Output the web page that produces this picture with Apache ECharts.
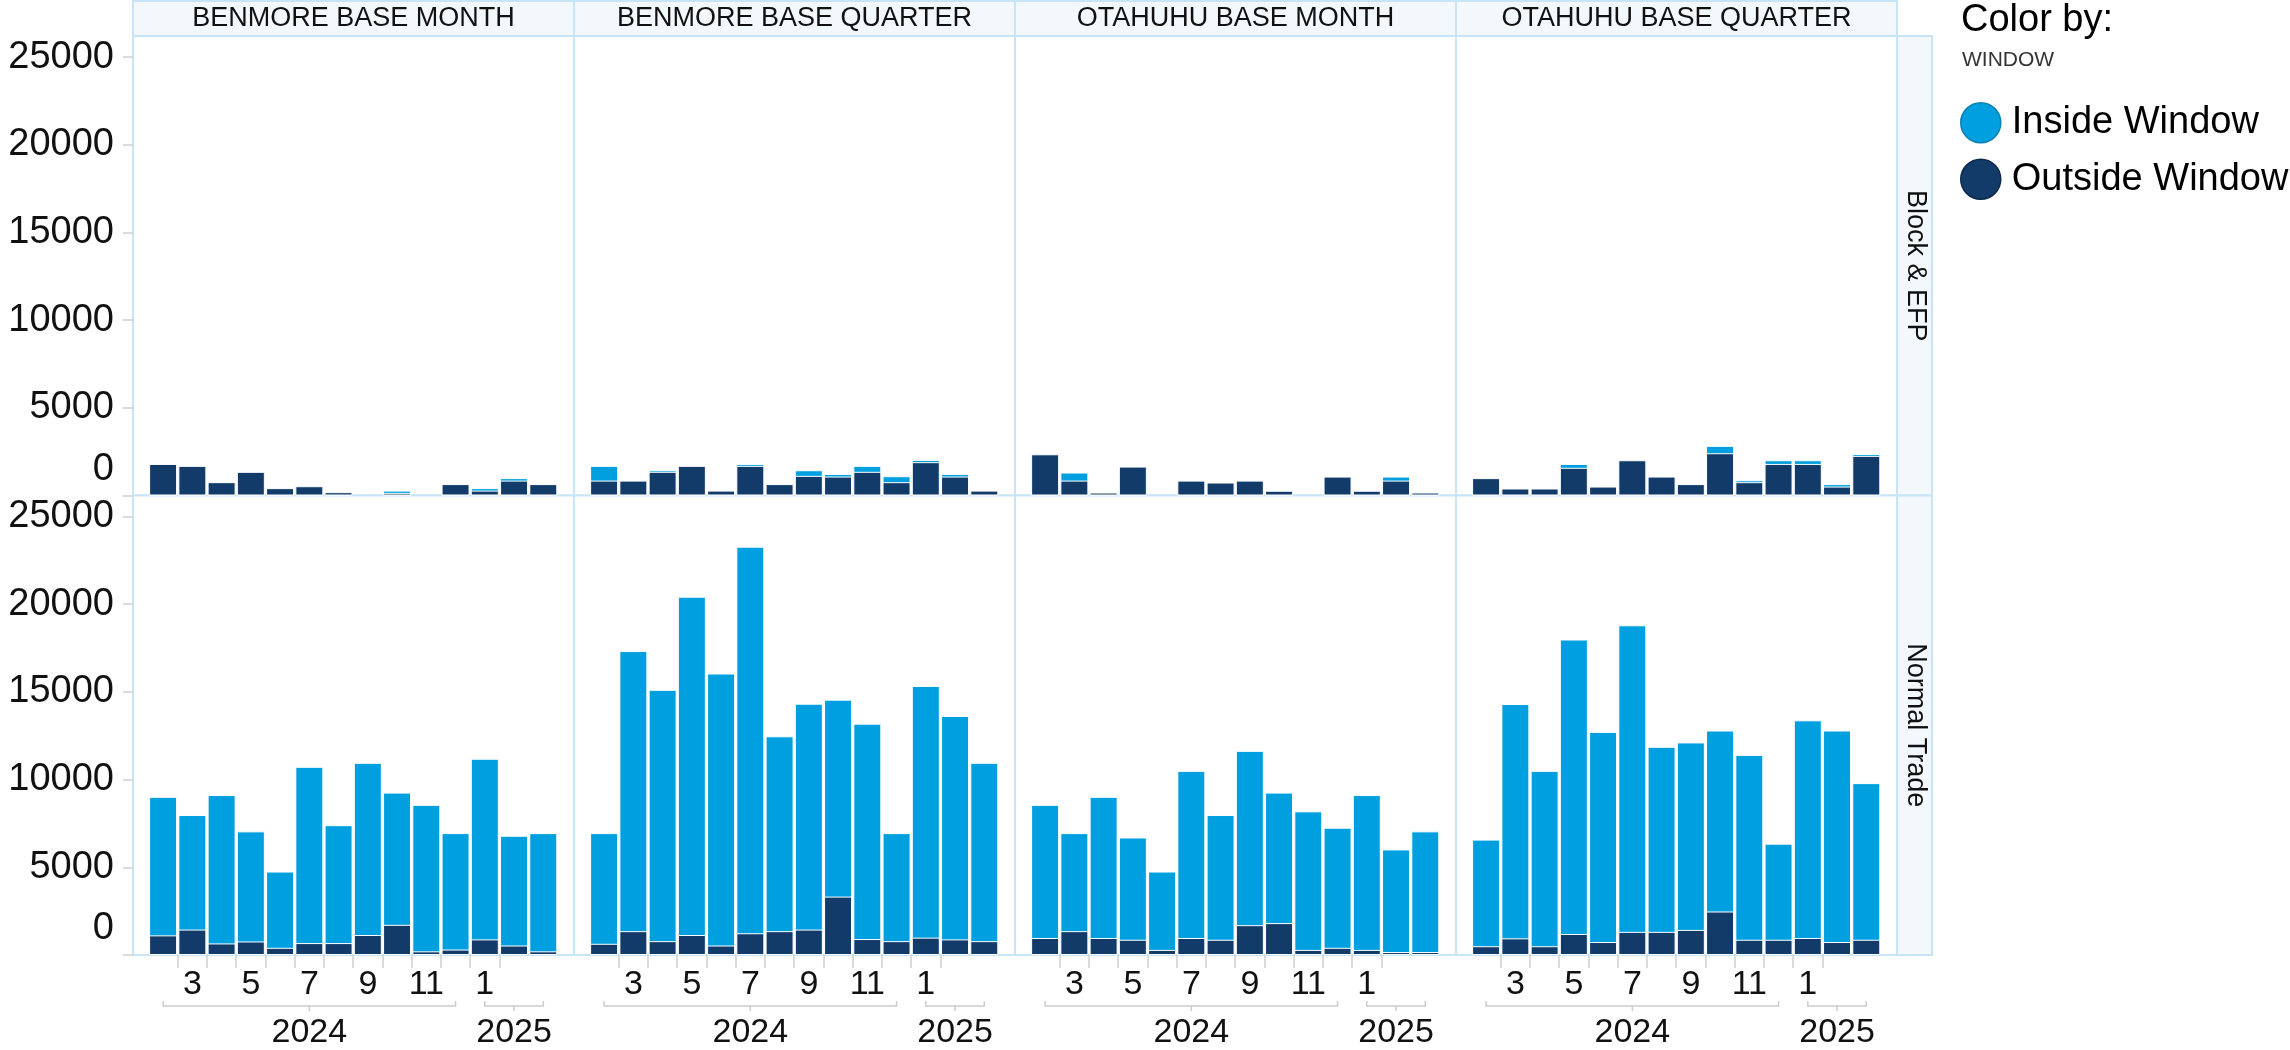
<!DOCTYPE html>
<html>
<head>
<meta charset="utf-8">
<title>Trades by window</title>
<script src="https://cdn.jsdelivr.net/npm/echarts@6.0.0/dist/echarts.min.js"></script>
<style>
  html, body { margin: 0; padding: 0; background: #fff; }
  #chart { width: 2290px; height: 1050px; }
</style>
</head>
<body>
<div id="chart"></div>
<script>
// months shown on every panel: Feb 2024 .. Mar 2025
const months = ['2024-02', '2024-03', '2024-04', '2024-05', '2024-06', '2024-07', '2024-08',
    '2024-09', '2024-10', '2024-11', '2024-12', '2025-01', '2025-02', '2025-03'];
const monthTickLabels = ['', '3', '', '5', '', '7', '', '9', '', '11', '', '1', '', ''];
const years = ['2024', '2025'];
const yearFirstMonth = [0, 11];
const yearLastMonth = [10, 13];
const panels = ['BENMORE BASE MONTH', 'BENMORE BASE QUARTER', 'OTAHUHU BASE MONTH', 'OTAHUHU BASE QUARTER'];
const tradeTypes = ['Block & EFP', 'Normal Trade'];
const yTicks = [0, 5000, 10000, 15000, 20000, 25000];

// Block & EFP
const bmBlockInside = [0, 0, 0, 0, 0, 0, 0, 0, 130, 0, 0, 140, 140, 0];
const bmBlockOutside = [1800, 1690, 760, 1350, 420, 530, 190, 0, 150, 0, 650, 280, 850, 650];
const bqBlockInside = [840, 0, 90, 0, 0, 110, 0, 320, 150, 340, 340, 130, 150, 0];
const bqBlockOutside = [850, 850, 1350, 1690, 280, 1690, 650, 1120, 1080, 1350, 760, 1900, 1080, 280];
const omBlockInside = [0, 460, 0, 0, 0, 0, 0, 0, 0, 0, 0, 0, 230, 0];
const omBlockOutside = [2350, 850, 170, 1650, 0, 850, 740, 850, 270, 0, 1080, 270, 850, 170];
const oqBlockInside = [0, 0, 0, 220, 0, 0, 0, 0, 420, 110, 210, 210, 140, 110];
const oqBlockOutside = [990, 400, 400, 1580, 510, 2010, 1080, 650, 2410, 760, 1800, 1800, 510, 2260];

// Normal Trade
const bmNormalInside = [7900, 6530, 8460, 6280, 4350, 10050, 6720, 9820, 7540, 8350, 6640, 10300, 6260, 6740];
const bmNormalOutside = [1120, 1450, 660, 770, 410, 680, 680, 1140, 1720, 210, 310, 890, 540, 210];
const bqNormalInside = [6310, 15970, 14330, 19290, 15510, 22040, 11110, 12880, 11230, 12280, 6160, 14350, 12740, 10170];
const bqNormalOutside = [640, 1360, 790, 1140, 540, 1240, 1360, 1450, 3330, 910, 790, 990, 890, 790];
const omNormalInside = [7590, 5590, 8050, 5830, 4470, 9530, 7110, 9940, 7440, 7900, 6850, 8830, 5850, 6880];
const omNormalOutside = [970, 1360, 970, 870, 290, 970, 870, 1700, 1820, 290, 410, 290, 170, 170];
const oqNormalInside = [6080, 13360, 10000, 16790, 11980, 17480, 10550, 10690, 10320, 10540, 5480, 12410, 12060, 8930];
const oqNormalOutside = [500, 950, 500, 1200, 740, 1320, 1320, 1430, 2480, 870, 870, 970, 740, 870];

const insideByPanel = [
    [bmBlockInside, bqBlockInside, omBlockInside, oqBlockInside],
    [bmNormalInside, bqNormalInside, omNormalInside, oqNormalInside]
];
const outsideByPanel = [
    [bmBlockOutside, bqBlockOutside, omBlockOutside, oqBlockOutside],
    [bmNormalOutside, bqNormalOutside, omNormalOutside, oqNormalOutside]
];

// layout
const L = 133, R = 1897, T = 36, B = 955;
const colW = (R - L) / 4, rowH = (B - T) / 2;
const frame = '#c8e4f7', stripFill = '#f3f8fd';
const insideColor = '#009fdf', outsideColor = '#133b69';
const font = '"Liberation Sans", Arial, sans-serif';

const tickSpots = months.slice(1, 13).map((m, i) => i + 0.5);
const labelSpots = monthTickLabels.map((t, i) => t ? i : -1).filter(i => i >= 0);

const grids = [], xAxes = [], yAxes = [], series = [], graphics = [];

tradeTypes.forEach((type, r) => {
    panels.forEach((panel, c) => {
        const idx = grids.length;
        const bottomRow = r === tradeTypes.length - 1;
        const firstCol = c === 0;
        grids.push({
            left: L + c * colW, top: T + r * rowH, width: colW, height: rowH,
            show: true, borderColor: frame, borderWidth: 2, backgroundColor: '#fff'
        });
        xAxes.push({
            gridIndex: idx, type: 'value', min: -1.03, max: 14.05, position: 'bottom',
            axisLine: { show: false, onZero: false }, splitLine: { show: false },
            axisTick: {
                show: bottomRow, customValues: tickSpots, length: 13,
                lineStyle: { color: '#d0d0d0', width: 1.5 }
            },
            axisLabel: {
                show: bottomRow, customValues: labelSpots, margin: 13,
                fontSize: 34, color: '#111', fontFamily: font,
                formatter: v => monthTickLabels[Math.round(v)]
            }
        });
        yAxes.push({
            gridIndex: idx, type: 'value', min: 0, max: 26200, position: 'left',
            axisLine: { show: false, onZero: false }, splitLine: { show: false },
            axisTick: {
                show: firstCol, customValues: yTicks, length: 10,
                lineStyle: { color: '#cfcfcf', width: 1.5 }
            },
            axisLabel: {
                show: firstCol, customValues: yTicks, margin: 19,
                fontSize: 38, color: '#111', fontFamily: font,
                formatter: v => v === 0 ? '{z|0}' : String(v),
                rich: { z: { fontSize: 38, fontFamily: font, color: '#111', padding: [0, 0, 52, 0] } }
            }
        });

        const inside = insideByPanel[r][c];
        const outside = outsideByPanel[r][c];
        // inside sits on top of outside: draw the full height in light blue, dark part over it
        series.push({
            type: 'bar', name: 'Inside Window', xAxisIndex: idx, yAxisIndex: idx,
            barWidth: 28, barGap: '-100%',
            itemStyle: { color: insideColor, borderColor: '#fff', borderWidth: 1 },
            data: inside.map((v, i) => [i, v + outside[i]]).filter(d => d[1] > 0)
        });
        series.push({
            type: 'bar', name: 'Outside Window', xAxisIndex: idx, yAxisIndex: idx,
            barWidth: 28, barGap: '-100%',
            itemStyle: { color: outsideColor, borderColor: '#fff', borderWidth: 1 },
            data: outside.map((v, i) => [i, v]).filter(d => d[1] > 0)
        });

        if (bottomRow) {
            series.push({
                type: 'custom', name: 'years', xAxisIndex: idx, yAxisIndex: idx,
                clip: false, silent: true,
                data: years.map((y, k) => [yearFirstMonth[k], 0, yearLastMonth[k]]),
                renderItem: (params, api) => {
                    const a = api.coord([api.value(0), 0]);
                    const b = api.coord([api.value(2), 0]);
                    const y = a[1] + 51;
                    const mid = (a[0] + b[0]) / 2;
                    const line = { stroke: '#cccccc', lineWidth: 1.5, fill: null };
                    return {
                        type: 'group',
                        children: [
                            { type: 'polyline', shape: { points: [[a[0], y - 5], [a[0], y], [b[0], y], [b[0], y - 5]] }, style: line },
                            { type: 'line', shape: { x1: mid, y1: y, x2: mid, y2: y + 5 }, style: line },
                            {
                                type: 'text',
                                style: {
                                    text: years[params.dataIndex], x: mid, y: a[1] + 78,
                                    align: 'center', verticalAlign: 'middle',
                                    fontSize: 34, fontFamily: font, fill: '#111'
                                }
                            }
                        ]
                    };
                }
            });
        }
    });
});

// facet strips: panel names on top, trade type on the right
panels.forEach((panel, c) => {
    graphics.push({
        type: 'rect', shape: { x: L + c * colW, y: 1, width: colW, height: T - 1 },
        style: { fill: stripFill, stroke: frame, lineWidth: 2 }
    });
    graphics.push({
        type: 'text', x: L + c * colW + colW / 2, y: 19,
        style: { text: panel, align: 'center', verticalAlign: 'middle', fontSize: 27, fontFamily: font, fill: '#111' }
    });
});
tradeTypes.forEach((type, r) => {
    graphics.push({
        type: 'rect', shape: { x: R, y: T + r * rowH, width: 35, height: rowH },
        style: { fill: stripFill, stroke: frame, lineWidth: 2 }
    });
    graphics.push({
        type: 'text', x: R + 18, y: T + r * rowH + rowH / 2, rotation: -Math.PI / 2,
        style: { text: type, align: 'center', verticalAlign: 'middle', fontSize: 27, fontFamily: font, fill: '#111' }
    });
});

const chart = echarts.init(document.getElementById('chart'), null, { renderer: 'canvas' });
chart.setOption({
    animation: false,
    backgroundColor: '#fff',
    textStyle: { fontFamily: font },
    title: [
        { text: 'Color by:', left: 1961, top: 2, padding: 0, textStyle: { fontSize: 38, fontWeight: 'normal', color: '#000', fontFamily: font } },
        { text: 'WINDOW', left: 1962, top: 50, padding: 0, textStyle: { fontSize: 21, fontWeight: 'normal', color: '#333', fontFamily: font } }
    ],
    legend: {
        orient: 'vertical', left: 1960, top: 102, padding: 0,
        icon: 'circle', itemWidth: 40, itemHeight: 40, itemGap: 15,
        textStyle: { fontSize: 38, color: '#000', fontFamily: font, padding: [0, 0, 0, 6] },
        data: [
            { name: 'Inside Window', itemStyle: { color: insideColor, borderColor: '#0b82b3', borderWidth: 1.5 } },
            { name: 'Outside Window', itemStyle: { color: outsideColor, borderColor: '#0d2a4d', borderWidth: 1.5 } }
        ]
    },
    grid: grids,
    xAxis: xAxes,
    yAxis: yAxes,
    series: series,
    graphic: graphics
});
</script>
</body>
</html>
